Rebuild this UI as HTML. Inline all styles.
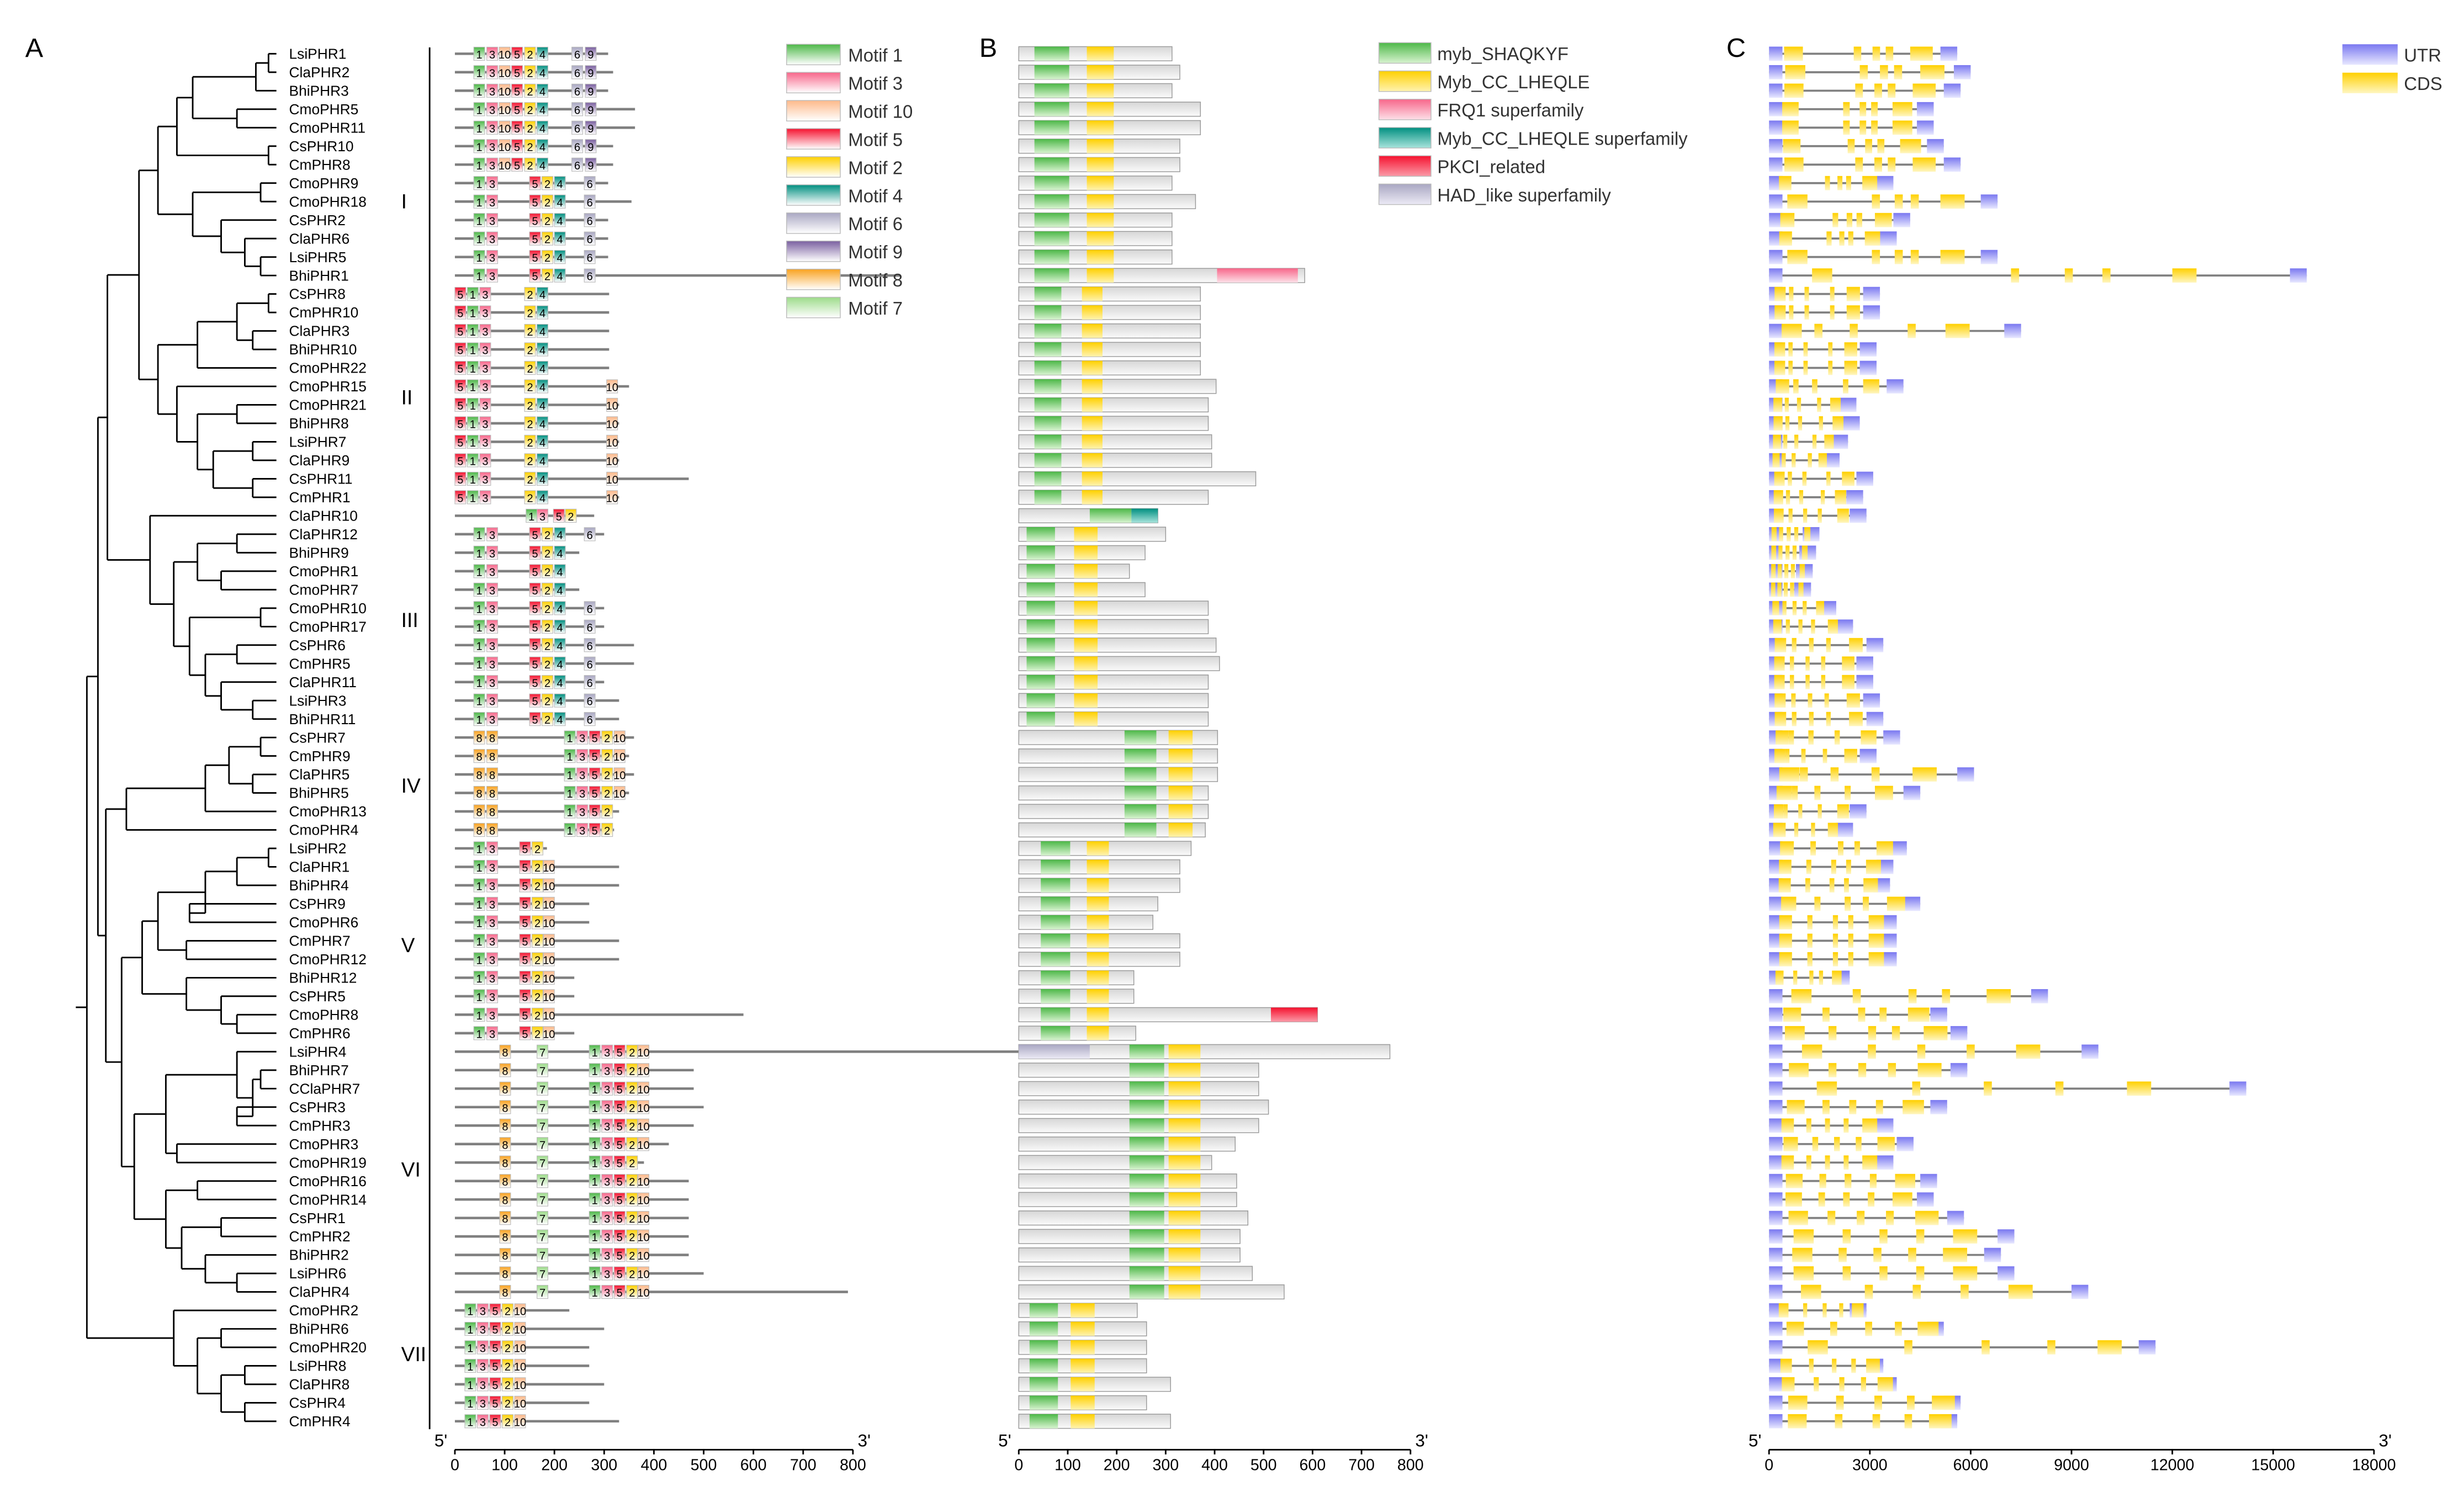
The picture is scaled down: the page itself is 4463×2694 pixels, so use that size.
<!DOCTYPE html>
<html><head><meta charset="utf-8"><style>
html,body{margin:0;padding:0;background:#fff;}
svg{display:block;font-family:"Liberation Sans",sans-serif;}
</style></head><body>
<svg id="fig" xmlns="http://www.w3.org/2000/svg" width="4463" height="2694" viewBox="0 0 1560 941.6">
<defs>
<linearGradient id="g1" x1="0" y1="0" x2="0" y2="1"><stop offset="0" stop-color="#4db848"/><stop offset="1" stop-color="#fff"/></linearGradient>
<linearGradient id="g3" x1="0" y1="0" x2="0" y2="1"><stop offset="0" stop-color="#f7668a"/><stop offset="1" stop-color="#fff"/></linearGradient>
<linearGradient id="g10" x1="0" y1="0" x2="0" y2="1"><stop offset="0" stop-color="#fdb98a"/><stop offset="1" stop-color="#fff"/></linearGradient>
<linearGradient id="g5" x1="0" y1="0" x2="0" y2="1"><stop offset="0" stop-color="#f5122f"/><stop offset="1" stop-color="#fff"/></linearGradient>
<linearGradient id="g2" x1="0" y1="0" x2="0" y2="1"><stop offset="0" stop-color="#ffd000"/><stop offset="1" stop-color="#fff"/></linearGradient>
<linearGradient id="g4" x1="0" y1="0" x2="0" y2="1"><stop offset="0" stop-color="#008f80"/><stop offset="1" stop-color="#fff"/></linearGradient>
<linearGradient id="g6" x1="0" y1="0" x2="0" y2="1"><stop offset="0" stop-color="#a9a7c2"/><stop offset="1" stop-color="#fff"/></linearGradient>
<linearGradient id="g9" x1="0" y1="0" x2="0" y2="1"><stop offset="0" stop-color="#7a5fa0"/><stop offset="1" stop-color="#fff"/></linearGradient>
<linearGradient id="g8" x1="0" y1="0" x2="0" y2="1"><stop offset="0" stop-color="#f9a21f"/><stop offset="1" stop-color="#fff"/></linearGradient>
<linearGradient id="g7" x1="0" y1="0" x2="0" y2="1"><stop offset="0" stop-color="#9ddb8a"/><stop offset="1" stop-color="#fff"/></linearGradient>
<linearGradient id="gb0" x1="0" y1="0" x2="0" y2="1"><stop offset="0" stop-color="#4db848"/><stop offset="1" stop-color="#d8f3d0"/></linearGradient>
<linearGradient id="gb1" x1="0" y1="0" x2="0" y2="1"><stop offset="0" stop-color="#ffd000"/><stop offset="1" stop-color="#fff3b0"/></linearGradient>
<linearGradient id="gb2" x1="0" y1="0" x2="0" y2="1"><stop offset="0" stop-color="#f7668a"/><stop offset="1" stop-color="#fde0e8"/></linearGradient>
<linearGradient id="gb3" x1="0" y1="0" x2="0" y2="1"><stop offset="0" stop-color="#008f80"/><stop offset="1" stop-color="#a8e4dc"/></linearGradient>
<linearGradient id="gb4" x1="0" y1="0" x2="0" y2="1"><stop offset="0" stop-color="#f5122f"/><stop offset="1" stop-color="#fb9aa8"/></linearGradient>
<linearGradient id="gb5" x1="0" y1="0" x2="0" y2="1"><stop offset="0" stop-color="#a9a7c2"/><stop offset="1" stop-color="#eceaf5"/></linearGradient>
<linearGradient id="gbg" x1="0" y1="0" x2="0" y2="1"><stop offset="0" stop-color="#d6d6d6"/><stop offset="1" stop-color="#fafafa"/></linearGradient>
<linearGradient id="gu" x1="0" y1="0" x2="0" y2="1"><stop offset="0" stop-color="#7a78f0"/><stop offset="1" stop-color="#e8e8ff"/></linearGradient>
<linearGradient id="gc" x1="0" y1="0" x2="0" y2="1"><stop offset="0" stop-color="#ffd000"/><stop offset="1" stop-color="#fff6c0"/></linearGradient>
</defs>
<g id="root"></g>
</svg>
<script>
// ---------- data ----------
const genes = ["LsiPHR1","ClaPHR2","BhiPHR3","CmoPHR5","CmoPHR11","CsPHR10","CmPHR8","CmoPHR9","CmoPHR18","CsPHR2","ClaPHR6","LsiPHR5","BhiPHR1",
"CsPHR8","CmPHR10","ClaPHR3","BhiPHR10","CmoPHR22","CmoPHR15","CmoPHR21","BhiPHR8","LsiPHR7","ClaPHR9","CsPHR11","CmPHR1",
"ClaPHR10","ClaPHR12","BhiPHR9","CmoPHR1","CmoPHR7","CmoPHR10","CmoPHR17","CsPHR6","CmPHR5","ClaPHR11","LsiPHR3","BhiPHR11",
"CsPHR7","CmPHR9","ClaPHR5","BhiPHR5","CmoPHR13","CmoPHR4",
"LsiPHR2","ClaPHR1","BhiPHR4","CsPHR9","CmoPHR6","CmPHR7","CmoPHR12","BhiPHR12","CsPHR5","CmoPHR8","CmPHR6",
"LsiPHR4","BhiPHR7","CClaPHR7","CsPHR3","CmPHR3","CmoPHR3","CmoPHR19","CmoPHR16","CmoPHR14","CsPHR1","CmPHR2","BhiPHR2","LsiPHR6","ClaPHR4",
"CmoPHR2","BhiPHR6","CmoPHR20","LsiPHR8","ClaPHR8","CsPHR4","CmPHR4"];
const groupOf = [0,0,0,0,0,0,0,0,0,0,0,0,0, 1,1,1,1,1,1,1,1,1,1,1,1, 2,2,2,2,2,2,2,2,2,2,2,2, 3,3,3,3,3,3, 4,4,4,4,4,4,4,4,4,4,4, 5,5,5,5,5,5,5,5,5,5,5,5,5,5, 6,6,6,6,6,6,6];
// motif pattern index per gene
const patIdx = [0,0,0,0,0,0,0,2,2,2,2,2,2, 1,1,1,1,1,1,1,1,1,1,1,1, 7,2,2,2,2,2,2,2,2,2,2,2, 3,3,3,3,3,3, 4,4,4,4,4,4,4,4,4,4,4, 5,5,5,5,5,5,5,5,5,5,5,5,5,5, 6,6,6,6,6,6,6];
const groupNames = ["I","II","III","IV","V","VI","VII"];
const protLen = [313,329,313,371,371,329,329,313,361,313,313,313,584,
371,371,371,371,371,403,387,387,394,394,484,387,
284,300,258,226,258,387,387,403,410,387,387,387,
406,406,406,387,387,381,
352,329,329,284,274,329,329,235,235,610,239,
758,490,490,510,490,442,394,445,445,468,452,452,477,542,
242,261,261,261,310,261,310];
const motifLen = [308,318,308,362,362,318,318,308,355,308,308,308,895,
310,310,310,310,310,350,330,330,330,330,470,330,
280,300,250,220,250,300,300,360,360,300,330,330,
360,350,360,350,330,320,
185,330,330,270,270,330,330,240,240,580,240,
1450,480,480,500,480,430,380,470,470,470,470,470,500,790,
230,300,270,270,300,270,330];
const motifPat = [
 [[1,38],[3,64],[10,89],[5,114],[2,140],[4,165],[6,235],[9,262]],
 [[5,0],[1,25],[3,50],[2,140],[4,165],[10,305]],
 [[1,38],[3,64],[5,150],[2,175],[4,200],[6,260]],
 [[8,38],[8,64],[1,220],[3,245],[5,270],[2,295],[10,320]],
 [[1,38],[3,64],[5,130],[2,155],[10,178]],
 [[8,90],[7,165],[1,270],[3,295],[5,320],[2,345],[10,368]],
 [[1,20],[3,45],[5,70],[2,95],[10,120]],
 [[1,143],[3,165],[5,198],[2,222]]
];
const mybStart = [32,32,16,216,45,226,22];
const mybEnd   = [103,87,74,281,105,297,80];
const ccStart  = [139,129,113,306,139,306,106];
const ccEnd    = [194,171,161,355,184,371,155];
const extraDomains = [[12,2,405,570],[25,3,230,284],[52,4,515,610],[54,5,0,145]];
const geneLen = [5600,6000,5700,4900,4900,5200,5700,3700,6800,4200,3800,6800,16000,
3300,3300,7500,3200,3200,4000,2600,2700,2350,2100,3100,2800,
2900,1500,1400,1300,1250,2000,2500,3400,3100,3100,3300,3400,
3900,3200,6100,4500,2900,2500,
4100,3700,3600,4500,3800,3800,3800,2400,8300,5300,5900,
9800,5900,14200,5300,3700,4300,3700,5000,4900,5800,7300,6900,7300,9500,
2900,5200,11500,3400,3800,5700,5600];
const exonFrac = [[0.08,0.45,0.55,0.62,0.75],[0.05,0.18,0.32,0.55,0.7],[0.05,0.2,0.35,0.5,0.7],[0.05,0.15,0.3,0.5,0.7],[0.08,0.3,0.5,0.62,0.78],[0.1,0.3,0.45,0.6,0.75],[0.1,0.35,0.55,0.72,0.85]];
const exonW = [0.1,0.04,0.04,0.04,0.12];
const motifTicks = [0,100,200,300,400,500,600,700,800];
const geneTicks = [0,3000,6000,9000,12000,15000,18000];
const motifLegend = [1,3,10,5,2,4,6,9,8,7];
const domainLegend = ["myb_SHAQKYF","Myb_CC_LHEQLE","FRQ1 superfamily","Myb_CC_LHEQLE superfamily","PKCI_related","HAD_like superfamily"];
const groupLabelY = [127,251,392,497,598,740,857];
const I_ = [100,[112,[122,[162,[170,0,1],2],[150,3,4]],[170,5,6]],[122,[165,7,8],[140,9,[155,10,[165,11,12]]]]];
const II_ = [100,[125,[150,[170,13,14],[160,15,16]],17],[112,18,[125,[150,19,20],[135,[160,21,22],[160,23,24]]]]];
const III_ = [95,25,[110,[125,[150,26,27],[140,28,29]],[120,[165,30,31],[130,[150,32,33],[140,34,[160,35,36]]]]]];
const IV_ = [80,[130,[145,[165,37,38],[160,39,40]],41],42];
const V_ = [90,[100,[130,[150,[170,43,44],45],[120,46,47]],[118,48,49]],[118,50,[140,51,[150,52,53]]]];
const VI_ = [85,[105,[150,54,[160,[165,55,56],[150,57,58]]],[112,59,60]],[105,[125,61,62],[115,[140,63,64],[130,65,[150,66,67]]]]];
const VII_ = [110,68,[125,[140,69,70],[140,[155,71,72],[155,73,74]]]];
const tree = [55,[62,[68,[88,I_,II_],III_],[67,IV_,[77,V_,VI_]]],VII_];

// ---------- drawing ----------
const NS="http://www.w3.org/2000/svg";
const root=document.getElementById('root');
function el(tag,attrs,parent,text){const e=document.createElementNS(NS,tag);for(const k in attrs)e.setAttribute(k,attrs[k]);if(text!==undefined)e.textContent=text;(parent||root).appendChild(e);return e;}
const y0=34, dy=(900-34)/(genes.length-1);
const rowY=i=>y0+i*dy;
const axA=v=>288+v*(252/800);
const axB=v=>645+v*(248/800);
const axC=v=>1120+v*(383/18000);
const axisY=918;

[["A",16],["B",620],["C",1093]].forEach(([t,x])=>{const e=el('text',{x:x,y:36,'font-size':17},root,t);

});

const treeG=el('g',{},root);


function drawNode(n){
 if(typeof n==='number') return {x:175,y:rowY(n)};
 const x=n[0]; const kids=n.slice(1).map(drawNode);
 const ys=kids.map(k=>k.y);
 el('line',{x1:x,x2:x,y1:Math.min(...ys),y2:Math.max(...ys),stroke:'#000','stroke-width':1},treeG);
 kids.forEach(k=>el('line',{x1:x,x2:k.x,y1:k.y,y2:k.y,stroke:'#000','stroke-width':1},treeG));
 return {x:x,y:(Math.min(...ys)+Math.max(...ys))/2};
}
const r=drawNode(tree);
el('line',{x1:48,x2:r.x,y1:r.y,y2:r.y,stroke:'#000','stroke-width':1},treeG);

genes.forEach((g,i)=>{const t=el('text',{x:183,y:rowY(i)+3.2,'font-size':9.2},root,g);

});
groupNames.forEach((g,i)=>{const t=el('text',{x:254,y:groupLabelY[i]+5,'font-size':13},root,g);

});
el('line',{x1:272,x2:272,y1:30,y2:905,stroke:'#000','stroke-width':1});

const gA=el('g',{},root);


const mw=22;
genes.forEach((g,i)=>{
 const y=rowY(i);
 const ln=el('line',{x1:axA(0),x2:axA(motifLen[i]),y1:y,y2:y,stroke:'#808080','stroke-width':1.6},gA);
 
 
 motifPat[patIdx[i]].forEach(([m,s])=>{
  if(s+mw>motifLen[i]+5) return;
  const b=el('rect',{x:axA(s),y:y-4.2,width:axA(mw)-axA(0),height:8.4,fill:'url(#g'+m+')',stroke:'#bbb','stroke-width':0.4},gA);
  
  
  el('text',{x:axA(s+mw/2),y:y+3,'font-size':7,'text-anchor':'middle'},gA,String(m));
 });
});

function axis(ax,ticks,name){
 const g=el('g',{},root);
 
 
 el('line',{x1:ax(ticks[0]),x2:ax(ticks[ticks.length-1]),y1:axisY,y2:axisY,stroke:'#000','stroke-width':1},g);
 ticks.forEach(t=>{el('line',{x1:ax(t),x2:ax(t),y1:axisY,y2:axisY+3,stroke:'#000','stroke-width':1},g);
  el('text',{x:ax(t),y:axisY+13,'font-size':10,'text-anchor':'middle'},g,String(t));});
 el('text',{x:ax(ticks[0])-13,y:axisY-2,'font-size':11},g,"5'");
 el('text',{x:ax(ticks[ticks.length-1])+3,y:axisY-2,'font-size':11},g,"3'");
}
axis(axA,motifTicks,'motif-x-axis');
axis(axB,motifTicks,'domain-x-axis');
axis(axC,geneTicks,'gene-x-axis');

motifLegend.forEach((m,i)=>{const y=28+i*17.8;
 const b=el('rect',{x:498,y:y,width:34,height:13,fill:'url(#g'+m+')',stroke:'#bbb','stroke-width':0.5});
 
 
 el('text',{x:537,y:y+11,'font-size':11.5,fill:'#333'},root,'Motif '+m);});

const gB=el('g',{},root);


genes.forEach((g,i)=>{
 const y=rowY(i); const grp=groupOf[i];
 const bar=el('rect',{x:axB(0),y:y-4.5,width:axB(protLen[i])-axB(0),height:9,fill:'url(#gbg)',stroke:'#999','stroke-width':0.5},gB);
 
 
 if(i!==25){
 const d1=el('rect',{x:axB(mybStart[grp]),y:y-4.5,width:axB(mybEnd[grp])-axB(mybStart[grp]),height:9,fill:'url(#gb0)'},gB);
 
 
 const d2=el('rect',{x:axB(ccStart[grp]),y:y-4.5,width:axB(ccEnd[grp])-axB(ccStart[grp]),height:9,fill:'url(#gb1)'},gB);
 
 
 } else {
 const d1=el('rect',{x:axB(145),y:y-4.5,width:axB(230)-axB(145),height:9,fill:'url(#gb0)'},gB);
 
 
 }
});
extraDomains.forEach(([i,t,s,e])=>{const y=rowY(i);
 const d=el('rect',{x:axB(s),y:y-4.5,width:axB(e)-axB(s),height:9,fill:'url(#gb'+t+')'},gB);
 
 });
domainLegend.forEach((n,i)=>{const y=27+i*17.9;
 const b=el('rect',{x:873,y:y,width:33,height:13,fill:'url(#gb'+i+')',stroke:'#bbb','stroke-width':0.5});
 
 
 el('text',{x:910,y:y+11,'font-size':11.5,fill:'#333'},root,n);});

const gC=el('g',{},root);


genes.forEach((g,i)=>{
 const y=rowY(i); const L=geneLen[i]; const grp=groupOf[i];
 const ln=el('line',{x1:axC(0),x2:axC(L),y1:y,y2:y,stroke:'#808080','stroke-width':1.3},gC);
 
 
 const u1=el('rect',{x:axC(0),y:y-4.5,width:axC(400)-axC(0),height:9,fill:'url(#gu)'},gC);
 
 
 const u2=el('rect',{x:axC(L-500),y:y-4.5,width:axC(500)-axC(0),height:9,fill:'url(#gu)'},gC);
 
 
 exonFrac[grp].forEach((f,k)=>{
  const w=Math.max(exonW[k]*Math.min(L,6000),120);
  const e=el('rect',{x:axC(f*L),y:y-4.5,width:axC(w)-axC(0),height:9,fill:'url(#gc)'},gC);
  
  
 });
});
[["UTR","gu"],["CDS","gc"]].forEach(([n,f],i)=>{const y=28+i*18;
 const b=el('rect',{x:1483,y:y,width:35,height:13,fill:'url(#'+f+')'});
 
 
 el('text',{x:1522,y:y+11,'font-size':11.5,fill:'#333'},root,n);});
</script>
</body></html>
